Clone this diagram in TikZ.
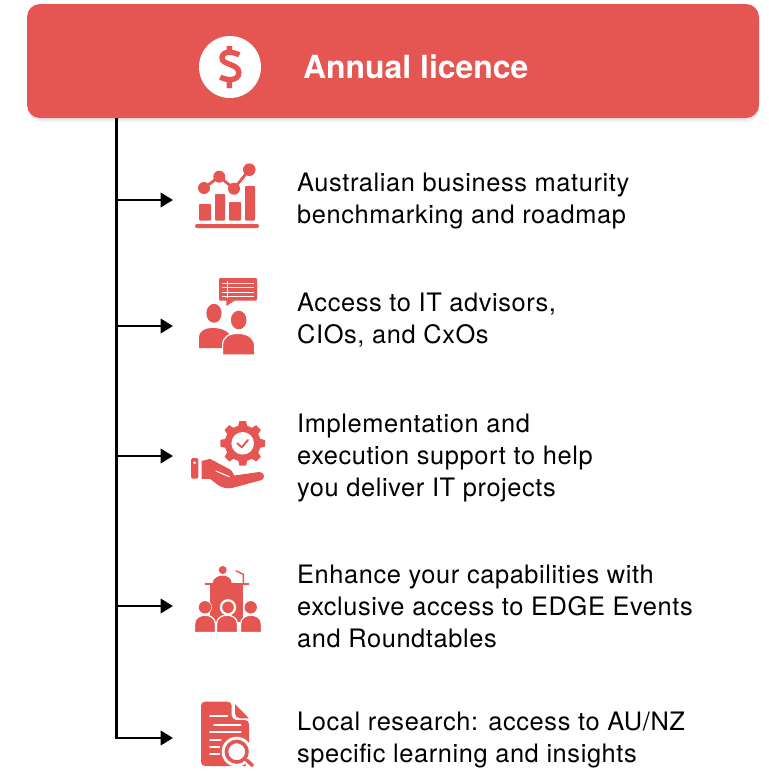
\documentclass[tikz,border=0pt]{standalone}
\usepackage{fontspec}
\setmainfont{TeX Gyre Heros}
\newfontfamily\itemfont[LetterSpace=2.35]{TeX Gyre Heros}
\usetikzlibrary{arrows.meta}
\definecolor{brand}{HTML}{E55552}
\tikzset{
  x=1pt,y=-1pt,
  headbox/.style={fill=brand,rounded corners=13pt,minimum width=732pt,minimum height=114pt,inner sep=0pt},
  headtext/.style={text=white,inner sep=0pt,anchor=west,font=\fontsize{31.9}{36}\selectfont\bfseries},
  itemtext/.style={inner sep=0pt,anchor=west,align=left,text=black,font=\fontsize{25.4}{32}\itemfont},
  trunkline/.style={draw=black,line width=2.8pt},
  branch/.style={draw=black,line width=2.5pt,-{Triangle[length=12.5pt,width=14.5pt]}},
  ico/.style={fill=brand,draw=none},
  cut/.style={draw=white,line cap=round},
}
\begin{document}
\begin{tikzpicture}
\useasboundingbox (0,0) rectangle (769,772);
% header
\fill[black,opacity=.05,rounded corners=13pt] (29,8) rectangle (759,122);
\fill[black,opacity=.05,rounded corners=13pt] (28,6) rectangle (759,120);
\node[headbox] (head) at (393,61) {};
\node[circle,fill=white,minimum size=62pt,inner sep=0pt] (dollar) at (230,67) {};
\draw[brand,line width=5.4pt] (239.3,55) .. controls (235,52.3) and (222.6,49.5) .. (222,57.8) .. controls (221.6,65) and (238.6,63.5) .. (238.8,72.5) .. controls (239,81.5) and (226,80.5) .. (220.3,77);
\fill[ico] (226.6,46) rectangle (232,52) (226.6,80) rectangle (232,88);
\node[headtext] (title) at (303,67) {Annual licence};
% connectors
\coordinate (ttop) at (116.2,118);
\coordinate (tbot) at (116.2,739);
\draw[trunkline] (ttop) -- (tbot);
\foreach \n/\y in {1/200,2/326,3/456,4/606,5/738}{
  \coordinate (t\n) at (116.2,\y);
  \coordinate (a\n) at (173,\y);
  \draw[branch] (t\n) -- (a\n);
}
% texts
\node[itemtext] (i1) at (297,201) {Australian business maturity\\benchmarking and roadmap};
\node[itemtext] (i2) at (297,320) {Access to IT advisors,\\CIOs, and CxOs};
\node[itemtext] (i3) at (297,458.5) {Implementation and\\execution support to help\\you deliver IT projects};
\node[itemtext] (i4) at (297,606.5) {Enhance your capabilities with\\exclusive access to EDGE Events\\and Roundtables};
\node[itemtext] (i5) at (297,740) {Local research: access to AU/NZ\\specific learning and insights};
% icon 1
\fill[ico,rounded corners=.8pt] (199,204) rectangle (211,220.5);
\fill[ico,rounded corners=.8pt] (215,194) rectangle (225,220.5);
\fill[ico,rounded corners=.8pt] (229,202) rectangle (241,220.5);
\fill[ico,rounded corners=.8pt] (245,186) rectangle (255,220.5);
\fill[ico,rounded corners=2pt] (195,224) rectangle (259,228);
\draw[brand,line width=2.8pt] (204,188) -- (219.3,176.7) -- (234,188.7) -- (249.3,169.7);
\fill[ico] (204,188) circle (6) (219.3,176.7) circle (6) (234,188.7) circle (6) (249.3,169.7) circle (6.3);
% icon 2
\fill[ico,rounded corners=1pt] (219,278) rectangle (257,300.7);
\fill[ico] (226.3,300) -- (226.3,306) -- (235,300.5) -- cycle;
\foreach \y in {283.3,287.7,292,296}{\draw[white,line width=.9pt] (221.7,\y) -- (254,\y);}
\draw[white,line width=.9pt] (227.3,281) -- (227.3,298);
\fill[ico] (214,313.3) ellipse (7.6 and 9.5);
\fill[ico] (199,348) -- (199,338) .. controls (199,331) and (205,328) .. (212,328) .. controls (222,328) and (230,331) .. (232,340) -- (232,348) -- cycle;
\fill[ico] (238.7,320) ellipse (7.8 and 9.3);
\draw[ico,draw=white,line width=1.2pt] (222.6,355) -- (222.6,345) .. controls (222.6,337) and (229,333.4) .. (238,333.4) .. controls (248,333.4) and (254.6,338) .. (254.6,346) -- (254.6,355) -- cycle;
% icon 3
\foreach \a in {0,45,...,315}{
  \fill[ico,rotate around={\a:(242.7,443.3)}] (237.7,428) -- (239.4,421) -- (246,421) -- (247.7,428) -- cycle;
}
\fill[ico] (242.7,443.3) circle (18);
\fill[white] (242.7,443.3) circle (11.3);
\draw[brand,line width=1.9pt,line cap=round,line join=round] (237.3,443.3) -- (241.7,447.3) -- (248,440);
\fill[ico,rounded corners=1.5pt] (191,458) rectangle (198.3,478.5);
\fill[white] (194.7,462.7) circle (1.5);
\fill[ico,line join=round] (201.7,461) -- (210,458.8) -- (230,469.5) .. controls (233,471.5) and (233,474.5) .. (234.3,475.5) -- (259,472) .. controls (264.5,471.5) and (265.5,478.5) .. (261.7,480) -- (232,488) .. controls (226,489) and (222,487.5) .. (218,485) -- (210,478.8) -- (201.7,478.8) -- cycle;
\draw[white,line width=1.1pt,line cap=round] (216,471) -- (229.3,476.7);
% icon 4
\fill[ico] (222.7,570) circle (4);
\fill[ico] (212.7,583) .. controls (213,578) and (218,575.7) .. (222.7,575.7) .. controls (227,575.7) and (231.5,578) .. (231.7,583) -- cycle;
\fill[ico] (205,582.7) rectangle (249,585);
\fill[ico] (210,585) rectangle (243.3,622);
\draw[brand,line width=1.4pt] (243.3,583) -- (243.3,574.3) -- (235.7,570.7);
\foreach \cx in {205,250.7}{
  \fill[white] (\cx,607.3) circle (6.9);
  \fill[ico] (\cx,607.3) circle (6.2);
}
\fill[white] (228,607.3) circle (8.2);
\fill[ico] (228,607.3) circle (5.8);
\foreach \lx in {195,217,241}{
  \draw[ico,draw=white,line width=1.2pt] (\lx-.4,632.4) -- (\lx-.4,624) .. controls (\lx-.4,618.5) and (\lx+4,615.2) .. (\lx+10,615.2) .. controls (\lx+16,615.2) and (\lx+20.4,618.5) .. (\lx+20.4,624) -- (\lx+20.4,632.4) -- cycle;
}
\fill[white] (190,631.8) rectangle (266,634);
% icon 5
\fill[ico,rounded corners=4pt] (201,701.7) -- (231.7,701.7) -- (231.7,712) .. controls (231.7,717) and (234,720) .. (240,720) -- (249,720) -- (249,766) -- (201,766) -- cycle;
\fill[ico] (235,704) -- (249,718.3) -- (240,718.3) .. controls (237,718.3) and (235,716) .. (235,713.3) -- cycle;
\foreach \xa/\xb/\y in {210/227.3/716.3,214/240.7/725,210/240.7/732.3,210/220.7/739.7,210/219.5/747,210/219.5/754.3}{
  \draw[cut,line width=1.9pt] (\xa,\y) -- (\xb,\y);
}
\fill[white] (236.7,751.7) circle (15);
\fill[white] (246,760) rectangle (256,772);
\fill[white] (249,745) rectangle (256,772);
\draw[brand,line width=3.6pt] (236.7,751.7) circle (10.3);
\draw[brand,line width=3.6pt,line cap=round] (246.5,760) -- (252.4,765.4);
\end{tikzpicture}
\end{document}
